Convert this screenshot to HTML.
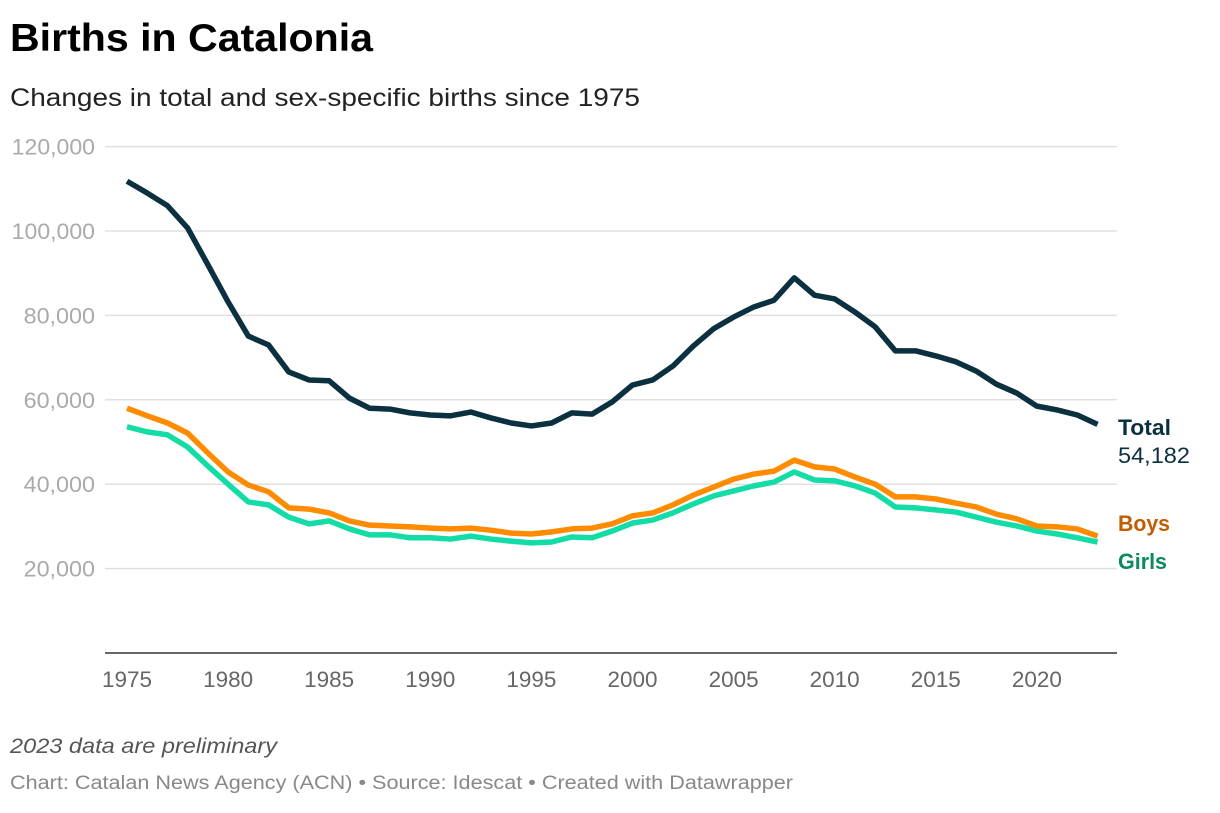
<!DOCTYPE html>
<html><head><meta charset="utf-8"><style>
body{margin:0;width:1220px;height:808px;background:#fff;font-family:"Liberation Sans",sans-serif;overflow:hidden}
</style></head><body>
<svg width="1220" height="808" id="svg">
<text x="10" y="51" font-size="39" font-weight="bold" fill="#000" textLength="363" lengthAdjust="spacingAndGlyphs">Births in Catalonia</text>
<text x="10" y="106" font-size="25" fill="#222" textLength="630" lengthAdjust="spacingAndGlyphs">Changes in total and sex-specific births since 1975</text>
<g id="grid"></g><g id="lines"></g>
<text x="1118" y="435" font-size="22" font-weight="bold" fill="#0b3040" textLength="53" lengthAdjust="spacingAndGlyphs">Total</text>
<text x="1118" y="463" font-size="22" fill="#0b3040" textLength="72" lengthAdjust="spacingAndGlyphs">54,182</text>
<text x="1118" y="531" font-size="22" font-weight="bold" fill="#c25e00" textLength="52" lengthAdjust="spacingAndGlyphs">Boys</text>
<text x="1118" y="569" font-size="22" font-weight="bold" fill="#0a8a5e" textLength="49" lengthAdjust="spacingAndGlyphs">Girls</text>
<text x="10" y="753" font-size="21" font-style="italic" fill="#555" textLength="267" lengthAdjust="spacingAndGlyphs">2023 data are preliminary</text>
<text x="10" y="789" font-size="19" fill="#888" textLength="783" lengthAdjust="spacingAndGlyphs">Chart: Catalan News Agency (ACN) • Source: Idescat • Created with Datawrapper</text>
</svg>
<script>
const years=[];for(let y=1975;y<=2023;y++)years.push(y);
const total=[111.8,109,106,100.7,92,83.2,75.1,73,66.6,64.7,64.5,60.4,58,57.8,56.9,56.4,56.2,57.1,55.7,54.5,53.8,54.5,56.9,56.6,59.5,63.5,64.7,68,72.7,76.8,79.6,82,83.6,88.9,84.8,83.9,80.8,77.3,71.6,71.6,70.4,69,66.8,63.7,61.6,58.5,57.6,56.4,54.182];
const boys=[58,56.2,54.5,52.1,47.4,42.9,39.8,38.2,34.4,34.1,33.2,31.3,30.3,30.1,29.9,29.6,29.4,29.6,29.1,28.4,28.2,28.7,29.4,29.6,30.6,32.5,33.2,35.1,37.4,39.3,41.2,42.4,43.1,45.7,44.1,43.6,41.7,40,37,37,36.5,35.5,34.6,32.9,31.8,30.1,29.9,29.4,27.7];
const girls=[53.6,52.4,51.7,48.8,44.3,40,35.8,35.1,32.2,30.6,31.3,29.4,28,28,27.3,27.3,27,27.7,27,26.5,26.1,26.3,27.5,27.3,28.9,30.8,31.5,33.2,35.3,37.2,38.4,39.6,40.5,42.9,41,40.8,39.6,37.9,34.6,34.4,33.9,33.4,32.2,31,30.1,28.9,28.2,27.3,26.3];
const yTicks=[20,40,60,80,100,120];
const xTicks=[1975,1980,1985,1990,1995,2000,2005,2010,2015,2020];
const X=y=>127+(y-1975)*20.22, Y=v=>653-v*4.22;
const NS="http://www.w3.org/2000/svg";
const grid=document.getElementById('grid'),lines=document.getElementById('lines');
function mk(tag,attrs,parent){const e=document.createElementNS(NS,tag);for(const k in attrs)e.setAttribute(k,attrs[k]);parent.appendChild(e);return e;}
yTicks.forEach(v=>{
 const l=mk('line',{x1:105,x2:1117,y1:Y(v),y2:Y(v),stroke:'#e0e0e0','stroke-width':1.5},grid);
 
 
 const s=(v*1000).toLocaleString('en-US');
 const t=mk('text',{x:95,y:Y(v)+8,'text-anchor':'end','font-size':22,fill:'#aaa',textLength:s.length*11.9,lengthAdjust:'spacingAndGlyphs'},grid);
 t.textContent=s;
 
 
});
const ax=mk('line',{x1:105,x2:1117,y1:653,y2:653,stroke:'#333','stroke-width':1.5},grid);


xTicks.forEach(v=>{
 const t=mk('text',{x:X(v),y:687,'text-anchor':'middle','font-size':22,fill:'#666',textLength:50,lengthAdjust:'spacingAndGlyphs'},grid);
 t.textContent=v;
 
 
});
[[girls,'#14dca6','line-girls'],[boys,'#ff8c00','line-boys'],[total,'#0b3040','line-total']].forEach(([d,c,n])=>{
 const p=mk('path',{d:d.map((v,i)=>(i?'L':'M')+X(years[i])+','+Y(v)).join(''),fill:'none',stroke:c,'stroke-width':5.5,'stroke-linejoin':'round'},lines);
 
 
});
</script>
</body></html>
